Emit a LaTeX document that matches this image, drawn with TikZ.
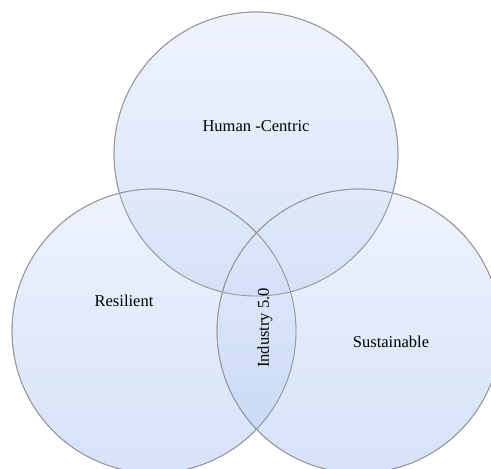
\documentclass[tikz,border=0pt]{standalone}
\usepackage{fontspec}
\setmainfont{Liberation Serif}
\definecolor{ctop}{RGB}{227,235,252}
\definecolor{cbot}{RGB}{185,207,243}
\definecolor{cline}{RGB}{150,150,155}
\begin{document}
\begin{tikzpicture}[x=0.75pt,y=-0.75pt,
  venn/.style={top color=ctop,bottom color=cbot,fill opacity=0.6,draw=cline,line width=0.6pt},
  lbl/.style={font=\fontsize{12.4}{14}\selectfont,text=black,text opacity=1}]
\useasboundingbox (0,0) rectangle (491,468);
\path[clip] (0,0) rectangle (491,468);
\shade[venn] (256,154) circle[radius=142];
\shade[venn] (154,331) circle[radius=142];
\shade[venn] (359,331) circle[radius=142];
\draw[cline,line width=0.6pt] (256,154) circle[radius=142];
\draw[cline,line width=0.6pt] (154,331) circle[radius=142];
\draw[cline,line width=0.6pt] (359,331) circle[radius=142];
\node[lbl] (hc) at (256,126) {Human -Centric};
\node[lbl] (rs) at (124,301) {Resilient};
\node[lbl] (su) at (391,342) {Sustainable};
\node[lbl,rotate=90] (i5) at (265,328) {Industry 5.0};
\end{tikzpicture}
\end{document}
